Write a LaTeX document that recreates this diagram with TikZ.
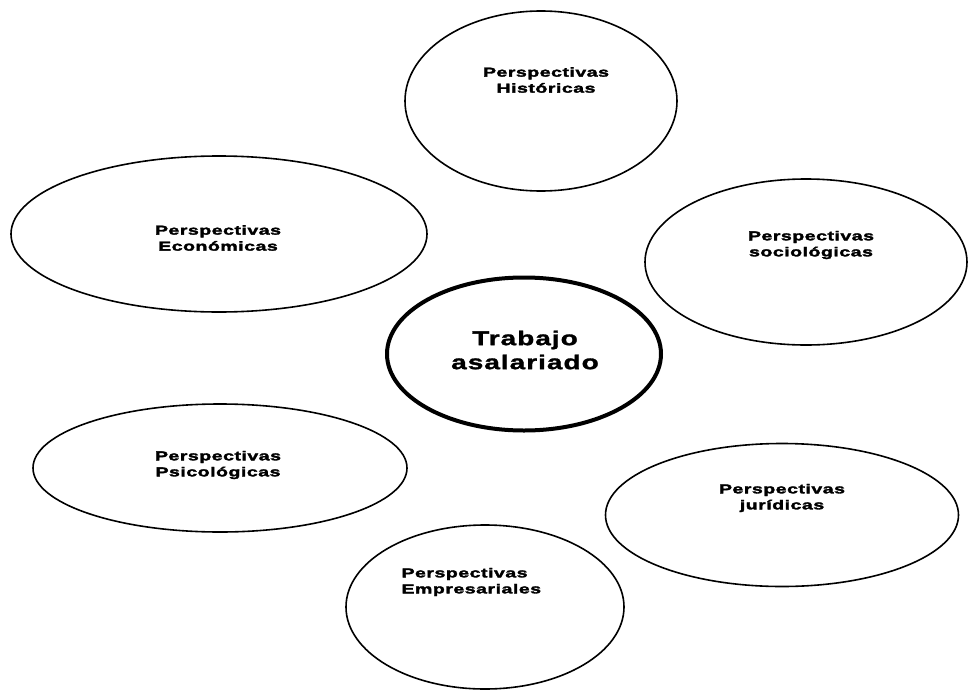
\documentclass[tikz,border=0pt]{standalone}
\usepackage{fontspec}
\setmainfont{Liberation Sans}
\newfontfamily\perspfont[FakeStretch=1.5,LetterSpace=4,FakeBold=2.5]{Liberation Sans}
\newfontfamily\centrofont[FakeStretch=1.4,LetterSpace=5,FakeBold=1.5]{Liberation Sans}
\usetikzlibrary{shapes.geometric,positioning}

\begin{document}
\begin{tikzpicture}[x=1pt,y=-1pt,
        persp/.style={ellipse,draw,line width=1.6pt,inner sep=0pt},
        centro/.style={ellipse,draw,line width=4pt,inner sep=0pt},
        etiq/.style={align=center,font=\perspfont\bfseries\fontsize{13}{16}\selectfont},
        etiqcentro/.style={align=center,font=\centrofont\bfseries\fontsize{20}{24}\selectfont}]

            \useasboundingbox (0,0) rectangle (970,691);

            \node[persp,minimum width=272pt,minimum height=180pt] (hist) at (541,101) {};

            \node[persp,minimum width=416pt,minimum height=156pt] (econ) at (219,234) {};

            \node[persp,minimum width=322pt,minimum height=166pt] (soc) at (806,262) {};

            \node[centro,minimum width=274pt,minimum height=153pt] (trab) at (524,354) {};

            \node[persp,minimum width=374pt,minimum height=128pt] (psic) at (220,468) {};

            \node[persp,minimum width=353pt,minimum height=143pt] (jur) at (782,515) {};

            \node[persp,minimum width=278pt,minimum height=164pt] (emp) at (485,607) {};

            \node[etiq] (histtxt) at (546,80) {Perspectivas\\Históricas};

            \node[etiq] (econtxt) at (218,238) {Perspectivas\\Económicas};

            \node[etiq] (soctxt) at (811,245) {Perspectivas\\sociológicas};

            \node[etiqcentro] (trabtxt) at (525,350) {Trabajo\\asalariado};

            \node[etiq] (psictxt) at (218,465) {Perspectivas\\Psicológicas};

            \node[etiq] (jurtxt) at (782,498) {Perspectivas\\jurídicas};

            \node[etiq,align=left,anchor=west] (emptxt) at (398,582) {Perspectivas\\Empresariales};

        \end{tikzpicture}
\end{document}
